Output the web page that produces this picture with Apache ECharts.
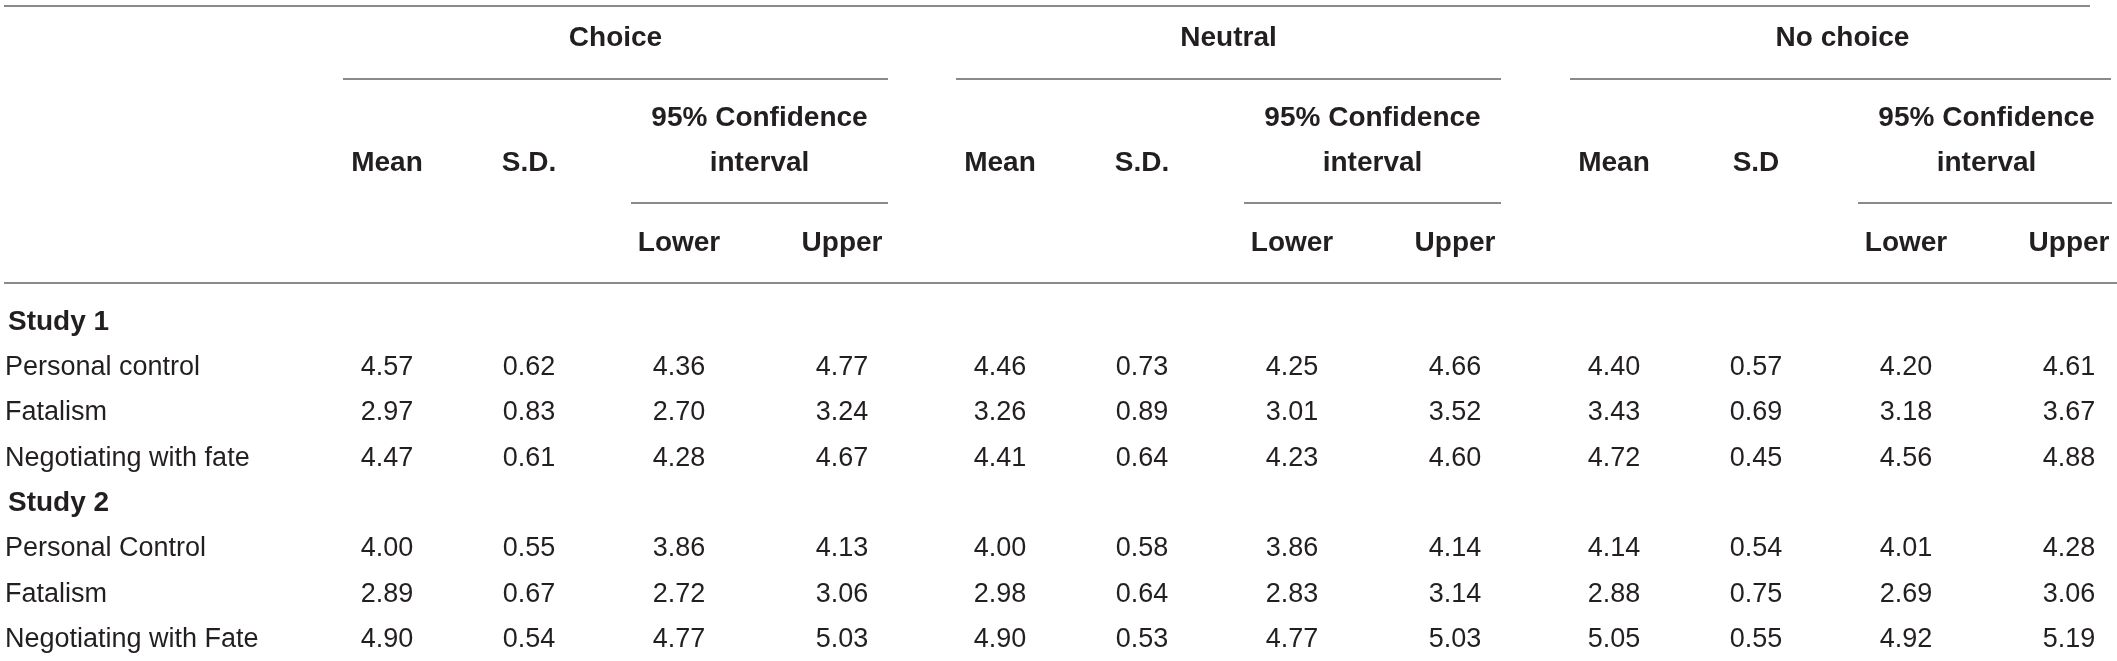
<!DOCTYPE html>
<html style="height: 100%">
<head>
    <meta charset="utf-8">
</head>
<body style="height: 100%; margin: 0; background: #ffffff">
<div id="container" style="height: 100%"></div>
<script type="text/javascript" src="https://cdn.jsdelivr.net/npm/echarts@6/dist/echarts.min.js"></script>
<script type="text/javascript">
// ---- table content ----
var groups = ['Choice', 'Neutral', 'No choice'];
var sdLabels = ['S.D.', 'S.D.', 'S.D'];
var meanLabel = 'Mean';
var ciTitle = ['95% Confidence', 'interval'];
var ciBounds = ['Lower', 'Upper'];
var studies = ['Study 1', 'Study 2'];
var measuresStudy1 = ['Personal control', 'Fatalism', 'Negotiating with fate'];
var measuresStudy2 = ['Personal Control', 'Fatalism', 'Negotiating with Fate'];

// per measure: mean, s.d., lower, upper
var choiceStudy1 = [[4.57, 0.62, 4.36, 4.77], [2.97, 0.83, 2.70, 3.24], [4.47, 0.61, 4.28, 4.67]];
var neutralStudy1 = [[4.46, 0.73, 4.25, 4.66], [3.26, 0.89, 3.01, 3.52], [4.41, 0.64, 4.23, 4.60]];
var noChoiceStudy1 = [[4.40, 0.57, 4.20, 4.61], [3.43, 0.69, 3.18, 3.67], [4.72, 0.45, 4.56, 4.88]];
var choiceStudy2 = [[4.00, 0.55, 3.86, 4.13], [2.89, 0.67, 2.72, 3.06], [4.90, 0.54, 4.77, 5.03]];
var neutralStudy2 = [[4.00, 0.58, 3.86, 4.14], [2.98, 0.64, 2.83, 3.14], [4.90, 0.53, 4.77, 5.03]];
var noChoiceStudy2 = [[4.14, 0.54, 4.01, 4.28], [2.88, 0.75, 2.69, 3.06], [5.05, 0.55, 4.92, 5.19]];

// ---- layout (page units, mapped through hidden value axes) ----
var W = 2117, H = 661;
var colX = [387, 529, 679, 842];      // mean, sd, lower, upper inside one group
var groupShift = [0, 613, 1227];
var groupSpan = [343, 888];           // group rule, first group
var ciSpan = [631, 888];
var headY = { group: 38, ci: 118, sub: 163, bound: 243 };
var bodyTop = 322, rowStep = 45.4;
var labelX = 5, studyX = 8;

var textColor = '#231f20';
var ruleColor = '#8a8a8a';
var fontFamily = '"Liberation Sans", Arial, Helvetica, sans-serif';
var headFont = 'bold 28px ' + fontFamily;
var bodyFont = '27px ' + fontFamily;

// ---- build cells ----
var cells = [];
function addCell(x, y, text, font, align) {
    cells.push({ value: [x, y], text: text, font: font, align: align || 'center' });
}

groups.forEach(function (g, gi) {
    var s = groupShift[gi];
    addCell((groupSpan[0] + groupSpan[1]) / 2 + s, headY.group, g, headFont);
    addCell(colX[0] + s, headY.sub, meanLabel, headFont);
    addCell(colX[1] + s, headY.sub, sdLabels[gi], headFont);
    addCell((ciSpan[0] + ciSpan[1]) / 2 + s, headY.ci, ciTitle[0], headFont);
    addCell((ciSpan[0] + ciSpan[1]) / 2 + s, headY.sub, ciTitle[1], headFont);
    addCell(colX[2] + s, headY.bound, ciBounds[0], headFont);
    addCell(colX[3] + s, headY.bound, ciBounds[1], headFont);
});

var studyBlocks = [
    { title: studies[0], measures: measuresStudy1, values: [choiceStudy1, neutralStudy1, noChoiceStudy1] },
    { title: studies[1], measures: measuresStudy2, values: [choiceStudy2, neutralStudy2, noChoiceStudy2] }
];
var row = 0;
studyBlocks.forEach(function (block) {
    addCell(studyX, bodyTop + row * rowStep, block.title, headFont, 'left');
    row++;
    block.measures.forEach(function (m, mi) {
        var y = bodyTop + row * rowStep;
        addCell(labelX, y, m, bodyFont, 'left');
        block.values.forEach(function (gv, gi) {
            gv[mi].forEach(function (v, ci) {
                addCell(colX[ci] + groupShift[gi], y, v.toFixed(2), bodyFont);
            });
        });
        row++;
    });
});

// horizontal rules: [x1, y, x2]
var rules = [[4, 6, 2090], [4, 283, 2117]];
groupShift.forEach(function (s) {
    rules.push([groupSpan[0] + s, 79, Math.min(groupSpan[1] + s, 2111)]);
    rules.push([ciSpan[0] + s, 203, Math.min(ciSpan[1] + s, 2112)]);
});

var dom = document.getElementById('container');
var myChart = echarts.init(dom);
var option = {
    backgroundColor: '#ffffff',
    animation: false,
    grid: { left: 0, right: 0, top: 0, bottom: 0 },
    xAxis: { type: 'value', min: 0, max: W, show: false },
    yAxis: { type: 'value', min: 0, max: H, inverse: true, show: false },
    series: [{
        type: 'custom',
        clip: false,
        silent: true,
        data: rules,
        renderItem: function (params, api) {
            var a = api.coord([api.value(0), api.value(1)]);
            var b = api.coord([api.value(2), api.value(1)]);
            return {
                type: 'line',
                shape: { x1: a[0], y1: a[1], x2: b[0], y2: b[1] },
                style: { stroke: ruleColor, lineWidth: 2 }
            };
        }
    }, {
        type: 'custom',
        clip: false,
        silent: true,
        data: cells.map(function (c) { return c.value; }),
        renderItem: function (params, api) {
            var c = cells[params.dataIndex];
            var p = api.coord([api.value(0), api.value(1)]);
            return {
                type: 'text',
                x: p[0],
                y: p[1],
                style: {
                    text: c.text,
                    font: c.font,
                    fill: textColor,
                    align: c.align,
                    verticalAlign: 'middle'
                }
            };
        }
    }]
};
myChart.setOption(option);
</script>
</body>
</html>
